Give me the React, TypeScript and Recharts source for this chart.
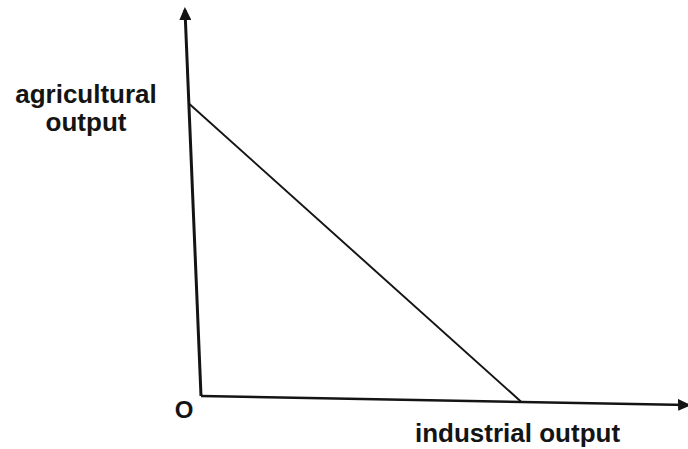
import { LineChart, Line, XAxis, YAxis, ReferenceLine } from 'recharts';

// production possibility frontier: two intercepts
const industrialOutput = [0, 100];
const agriculturalOutput = [100, 0];

// how far the drawn axes run, in the same units
const xAxisMax = 152;
const yAxisMax = 132;

const frontier = industrialOutput.map((x, i) => ({ industrial: x, agricultural: agriculturalOutput[i] }));

const ink = '#141414';
const font = '"Liberation Sans", Arial, sans-serif';

// the scan is slightly skewed: axes lean a little, this puts the lines on it
const skewCss = `
.skewed {
	transform: matrix(1, 0.0185, 0.0415, 1, 0, 0);
	transform-origin: 201px 396px;
}
`;

const App = () => {
	return (
		<div style={{ position: 'absolute', left: 0, top: 0, width: 688, height: 449, background: '#fff' }}>
			<style>{skewCss}</style>
			<LineChart
				width={688}
				height={449}
				data={frontier}
				margin={{ top: 10, right: 0, bottom: 53, left: 201 }}
			>
				<defs>
					<marker
						id='arrow'
						markerUnits='userSpaceOnUse'
						markerWidth={13}
						markerHeight={12}
						refX={10}
						refY={6}
						orient='auto'
					>
						<path d='M0,0 L13,6 L0,12 Z' fill={ink} />
					</marker>
				</defs>
				<XAxis type='number' dataKey='industrial' domain={[0, xAxisMax]} allowDataOverflow hide />
				<YAxis type='number' domain={[0, yAxisMax]} allowDataOverflow hide />

				<ReferenceLine
					className='skewed'
					segment={[{ x: 0, y: 0 }, { x: xAxisMax, y: 0 }]}
					stroke={ink}
					strokeWidth={2.5}
					markerEnd='url(#arrow)'
					ifOverflow='visible'
				/>
				<ReferenceLine
					className='skewed'
					segment={[{ x: 0, y: 0 }, { x: 0, y: yAxisMax }]}
					stroke={ink}
					strokeWidth={3}
					markerEnd='url(#arrow)'
					ifOverflow='visible'
				/>

				<Line
					className='skewed'
					type='linear'
					dataKey='agricultural'
					stroke={ink}
					strokeWidth={2}
					dot={false}
					activeDot={false}
					isAnimationActive={false}
				/>

				<text x={86} y={103} textAnchor='middle' fontFamily={font} fontWeight='bold' fontSize={26} fill={ink}>
					agricultural
				</text>
				<text x={86} y={131} textAnchor='middle' fontFamily={font} fontWeight='bold' fontSize={26} fill={ink}>
					output
				</text>
				<text x={184} y={418} textAnchor='middle' fontFamily={font} fontWeight='bold' fontSize={24} fill={ink}>
					O
				</text>
				<text x={415} y={442} fontFamily={font} fontWeight='bold' fontSize={26} fill={ink}>
					industrial output
				</text>
			</LineChart>
		</div>
	);
};

export default App;
